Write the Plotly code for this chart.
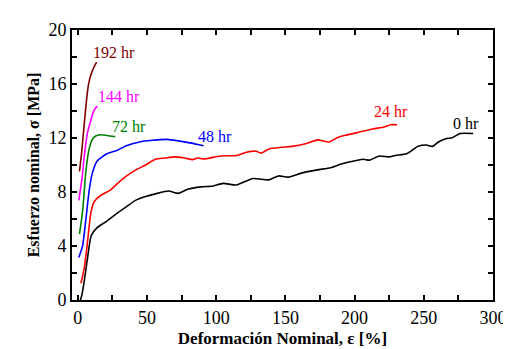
import plotly.graph_objects as go

# 0 hr
x0 = [1.9, 3.0, 4.7, 7.0, 9.8, 14, 21, 28, 35, 42, 49, 56, 65.6, 72.6, 79.4, 89, 98, 105, 114.5, 126.5, 138, 145, 152, 161.6, 173, 182.7, 189.7, 196.7, 206, 210.8, 217.8, 224.8, 229.5, 237.7, 245.9, 251.8, 256.4, 260, 265.8, 270.5, 276.3, 285.7]
y0 = [0.0, 0.4, 1.43, 3.1, 4.8, 5.36, 5.85, 6.4, 6.9, 7.4, 7.67, 7.86, 8.07, 7.9, 8.2, 8.38, 8.45, 8.64, 8.52, 9.0, 8.9, 9.19, 9.1, 9.4, 9.64, 9.8, 10.05, 10.24, 10.43, 10.36, 10.67, 10.6, 10.71, 10.83, 11.38, 11.48, 11.38, 11.67, 11.95, 12.02, 12.33, 12.33]
# 24 hr
x24 = [2.3, 4.7, 7.0, 9.4, 11.7, 16.4, 23.4, 28, 35, 42, 49, 56, 63, 70, 77, 83, 86.6, 91.3, 103, 114.7, 121.8, 128.8, 132.3, 138.2, 147.5, 154.6, 163.9, 173.3, 181.5, 187.4, 193.2, 201.4, 213, 221.3, 226, 230.7]
y24 = [1.24, 2.38, 4.3, 6.43, 7.26, 7.74, 8.14, 8.57, 9.17, 9.64, 10.0, 10.43, 10.52, 10.6, 10.52, 10.4, 10.52, 10.45, 10.67, 10.71, 10.95, 11.02, 10.88, 11.19, 11.31, 11.38, 11.55, 11.86, 11.71, 12.02, 12.2, 12.38, 12.67, 12.81, 12.98, 12.98]
# 48 hr
x48 = [0.7, 3.5, 5.8, 8.2, 10.5, 14, 21, 28, 35, 44.5, 53.9, 64.4, 72.6, 82, 90.9]
y48 = [3.14, 4.05, 5.95, 8.1, 9.4, 10.3, 10.83, 11.07, 11.43, 11.71, 11.83, 11.9, 11.79, 11.62, 11.43]
# 72 hr
x72 = [1.2, 3.5, 5.8, 8.2, 10.5, 12.9, 16.4, 21, 27]
y72 = [4.88, 6.6, 9.5, 11.19, 11.9, 12.15, 12.24, 12.19, 12.1]
# 144 hr
x144 = [0.7, 3.1, 4.7, 7.0, 9.4, 11.7, 14]
y144 = [7.38, 9.05, 10.7, 12.4, 13.3, 14.05, 14.36]
# 192 hr
x192 = [1.2, 2.8, 4.7, 6.5, 7.7, 9.4, 11.7, 13.6]
y192 = [9.52, 10.95, 13.1, 15.0, 15.95, 16.67, 17.26, 17.62]

series = [
    ("0 hr", x0, y0, "#000000", 280.4, 13.07),
    ("24 hr", x24, y24, "#ff0000", 226, 13.93),
    ("48 hr", x48, y48, "#0000ff", 99, 12.14),
    ("72 hr", x72, y72, "#008000", 37.2, 12.86),
    ("144 hr", x144, y144, "#ff00ff", 29.5, 15.07),
    ("192 hr", x192, y192, "#800000", 26, 18.36),
]

x_tickvals = list(range(0, 301, 25))
x_ticktext = [str(v) if v % 50 == 0 else "" for v in x_tickvals]
y_tickvals = list(range(0, 21, 2))
y_ticktext = [str(v) if v % 4 == 0 else "" for v in y_tickvals]

SERIF = "Liberation Serif, Times New Roman, serif"

fig = go.Figure()
for name, xs, ys, col, lx, ly in series:
    fig.add_trace(go.Scatter(x=xs, y=ys, mode="lines", name=name, line_shape="spline",
                             line=dict(color=col, width=1.6, smoothing=0.6), showlegend=False))
    fig.add_annotation(x=lx, y=ly, text=name, showarrow=False,
                       font=dict(family=SERIF, size=16, color=col))

fig.update_layout(
    width=511, height=349,
    margin=dict(l=64, r=14, t=20, b=49),
    paper_bgcolor="white", plot_bgcolor="white",
    font=dict(family=SERIF, color="black"),
)
fig.update_xaxes(range=[-4.2, 300], tickvals=x_tickvals, ticktext=x_ticktext,
                 ticks="inside", ticklen=5, tickwidth=2, tickcolor="black",
                 showline=True, linewidth=2, linecolor="black", mirror="ticks",
                 showgrid=False, zeroline=False,
                 tickfont=dict(family=SERIF, size=18),
                 title=dict(text="<b>Deformación Nominal, ε [%]</b>",
                            font=dict(family=SERIF, size=17), standoff=6))
fig.update_yaxes(range=[0, 20], tickvals=y_tickvals, ticktext=y_ticktext,
                 ticks="inside", ticklen=5, tickwidth=2, tickcolor="black",
                 showline=True, linewidth=2, linecolor="black", mirror="ticks",
                 showgrid=False, zeroline=False,
                 tickfont=dict(family=SERIF, size=18),
                 title=dict(text="<b>Esfuerzo nominal, σ [MPa]</b>",
                            font=dict(family=SERIF, size=16), standoff=5))

fig.write_html("out.html")
